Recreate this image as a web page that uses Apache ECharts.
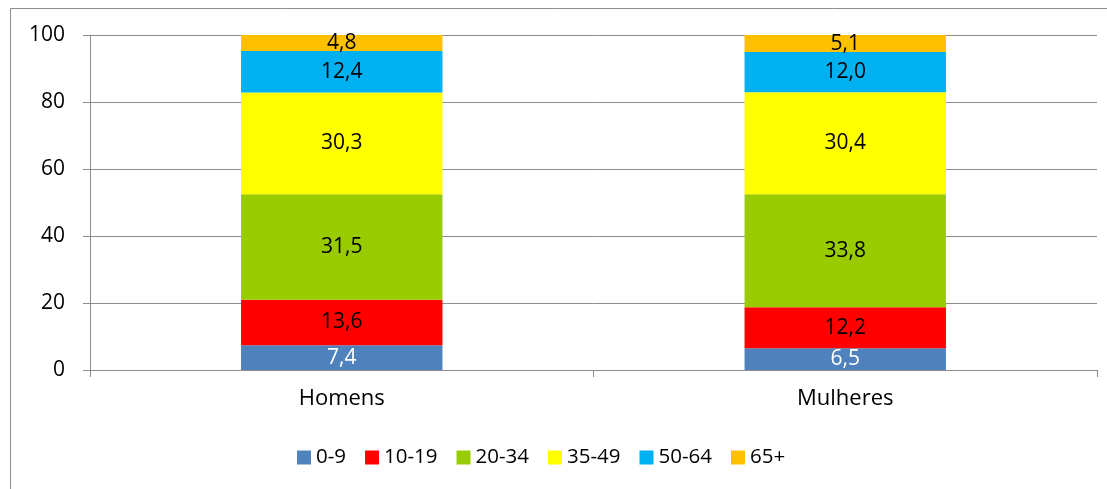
<!DOCTYPE html>
<html>
<head>
<meta charset="utf-8">
<script src="https://cdn.jsdelivr.net/npm/echarts@6/dist/echarts.min.js"></script>
<style>
  html, body { margin: 0; padding: 0; background: #fff; }
  #chart { width: 1107px; height: 489px; }
</style>
</head>
<body>
<div id="chart"></div>
<script>
// categorias e faixas etárias
var categories = ['Homens', 'Mulheres'];
var ageGroups = ['0-9', '10-19', '20-34', '35-49', '50-64', '65+'];
var v0_9 = [7.4, 6.5];
var v10_19 = [13.6, 12.2];
var v20_34 = [31.5, 33.8];
var v35_49 = [30.3, 30.4];
var v50_64 = [12.4, 12.0];
var v65 = [4.8, 5.1];
var yTicks = [0, 20, 40, 60, 80, 100];

var values = [v0_9, v10_19, v20_34, v35_49, v50_64, v65];
var colors = ['#4F81BD', '#FF0000', '#99CC00', '#FFFF00', '#00B0F0', '#FFC000'];
var font = 'Open Sans';
var fs = 21;

var chart = echarts.init(document.getElementById('chart'));

var series = ageGroups.map(function (name, i) {
  return {
    name: name,
    type: 'bar',
    stack: 'total',
    barWidth: '40%',
    data: values[i],
    itemStyle: { color: colors[i] },
    label: {
      show: true,
      position: 'inside',
      fontFamily: font,
      fontSize: fs,
      color: i === 0 ? '#fff' : '#000',
      formatter: function (p) { return p.value.toFixed(1).replace('.', ','); }
    }
  };
});

chart.setOption({
  animation: false,
  backgroundColor: '#fff',
  graphic: [{
    type: 'rect',
    shape: { x: 10.5, y: 8.5, width: 1200, height: 600 },
    style: { fill: 'none', stroke: '#8c8c8c', lineWidth: 1 },
    silent: true
  }],
  grid: { left: 90, right: 10, top: 35, bottom: 119 },
  legend: {
    top: 442,
    left: 292,
    itemWidth: 14,
    itemHeight: 14,
    itemGap: 19,
    icon: 'rect',
    textStyle: { fontFamily: font, fontSize: 20.5, color: '#000' },
    data: ageGroups
  },
  xAxis: {
    type: 'category',
    data: categories,
    axisLine: { lineStyle: { color: '#8c8c8c' } },
    axisTick: { show: true, length: 7, lineStyle: { color: '#8c8c8c' } },
    axisLabel: { fontFamily: font, fontSize: 22, color: '#000', margin: 18 }
  },
  yAxis: {
    type: 'value',
    min: yTicks[0],
    max: yTicks[yTicks.length - 1],
    interval: 20,
    axisLine: { show: true, lineStyle: { color: '#8c8c8c' } },
    axisTick: { show: true, length: 7, lineStyle: { color: '#8c8c8c' } },
    splitLine: { lineStyle: { color: '#8c8c8c' } },
    axisLabel: { fontFamily: font, fontSize: fs, color: '#000', margin: 25 }
  },
  series: series
});
</script>
</body>
</html>
